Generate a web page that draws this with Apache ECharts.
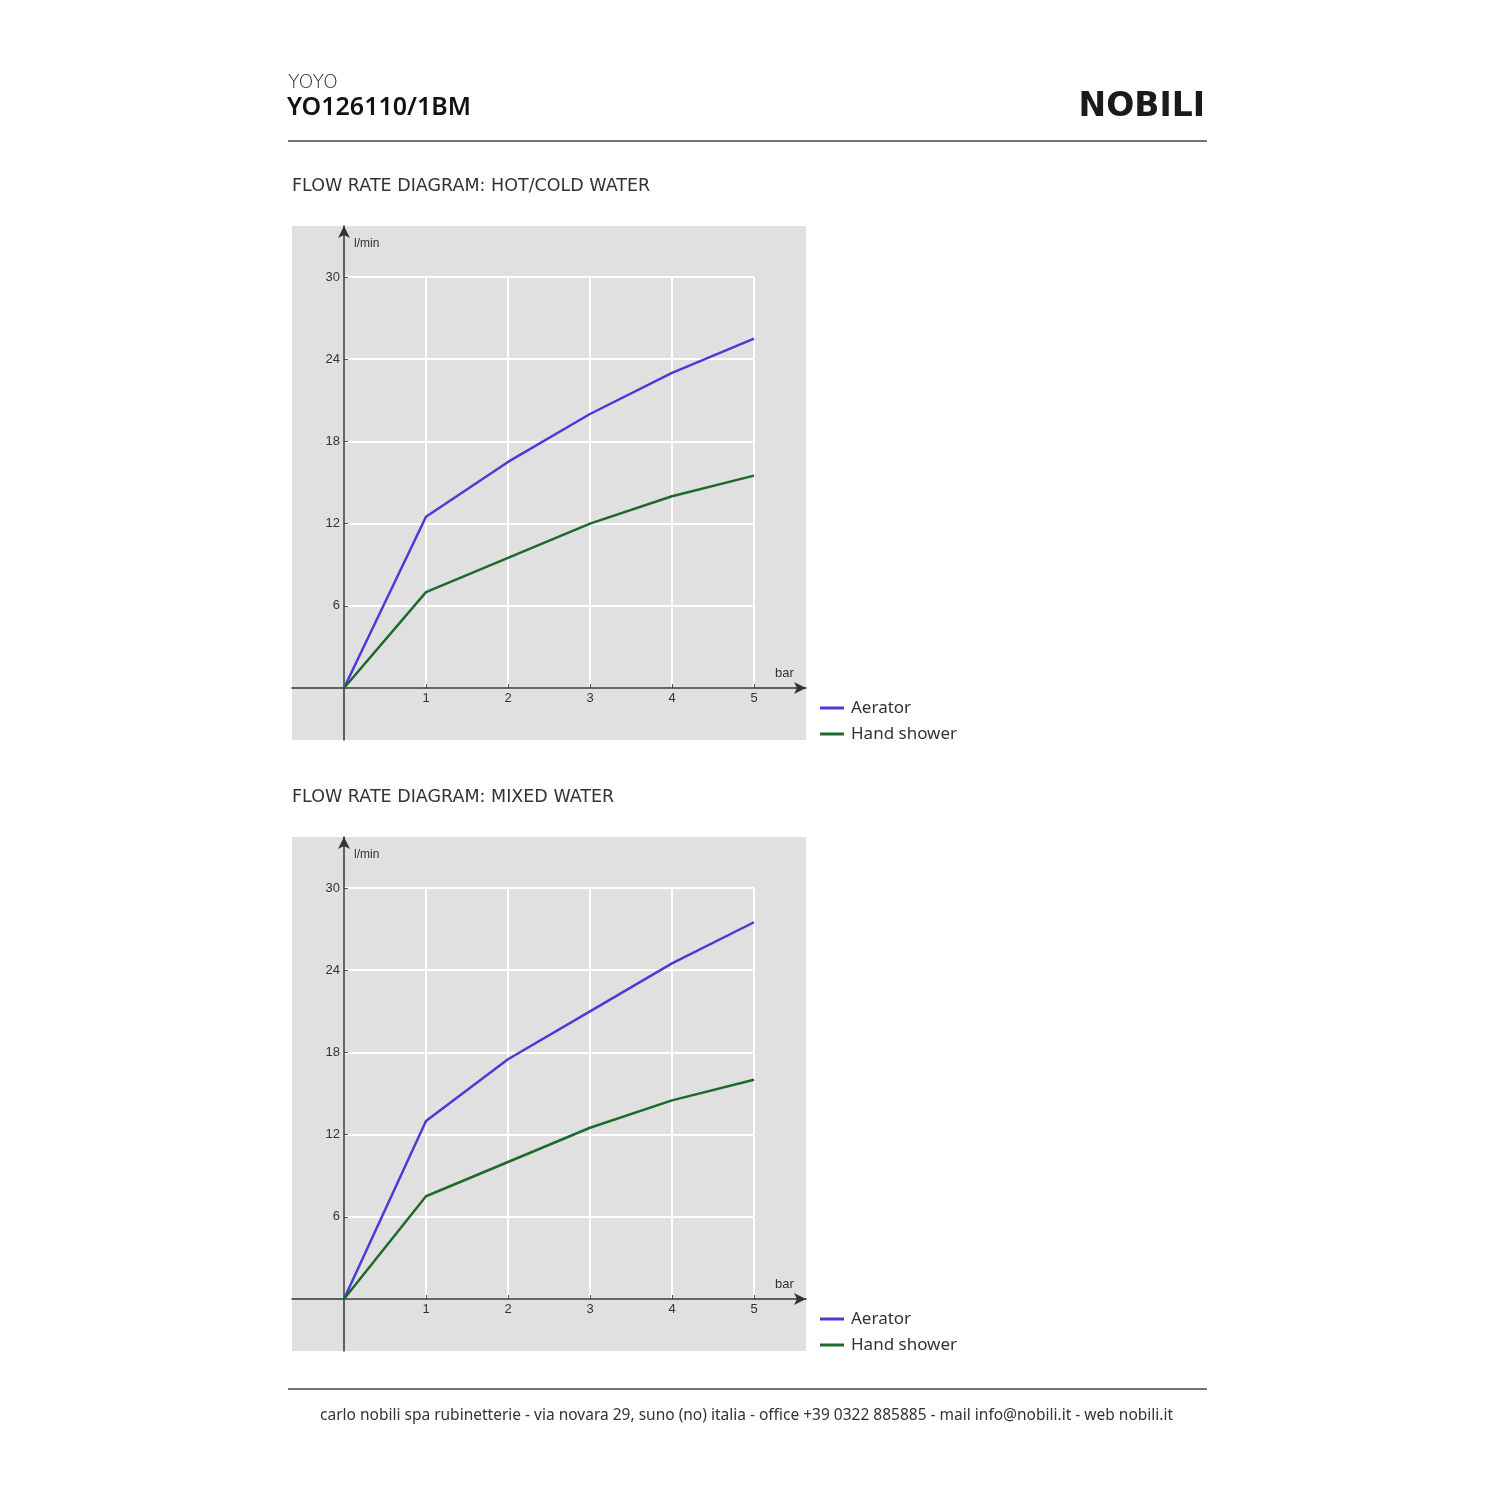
<!DOCTYPE html>
<html>
<head>
<meta charset="utf-8">
<script src="https://cdn.jsdelivr.net/npm/echarts@6/dist/echarts.min.js"></script>
<style>
  html, body { margin: 0; padding: 0; background: #fff; }
  #page { width: 1500px; height: 1500px; }
</style>
</head>
<body>
<div id="page"></div>
<script>
// pressure (bar) and flow rates (l/min)
var pressure = [0, 1, 2, 3, 4, 5];
var hotColdAerator = [0, 12.5, 16.5, 20, 23, 25.5];
var hotColdHandShower = [0, 7, 9.5, 12, 14, 15.5];
var mixedAerator = [0, 13, 17.5, 21, 24.5, 27.5];
var mixedHandShower = [0, 7.5, 10, 12.5, 14.5, 16];
var flowTicks = [0, 6, 12, 18, 24, 30];
var seriesNames = ['Aerator', 'Hand shower'];
var seriesColors = ['#4a3bd6', '#1d6b2a'];

var pageFont = 'Noto Sans';
var wideFont = 'DejaVu Sans';
var chartFont = 'Liberation Sans';

var chart = echarts.init(document.getElementById('page'));

// panel = grey box, plot = area between 0..5 bar and 0..30 l/min
var panelLeft = 292, panelSize = 514;
var plotLeft = 344, plotWidth = 410, plotHeight = 411, plotOffsetTop = 51;

var xMax = pressure[pressure.length - 1];
var yMax = flowTicks[flowTicks.length - 1];
var yStep = flowTicks[1] - flowTicks[0];

var grids = [], xAxes = [], yAxes = [], series = [], legends = [];

function pairs(xs, ys) {
    return xs.map(function (x, i) { return [x, ys[i]]; });
}

function addDiagram(panelTop, aerator, handShower) {
    var plotTop = panelTop + plotOffsetTop;
    var outer = grids.length, inner = grids.length + 1;

    // outer grid: grey panel carrying the arrowed axes
    grids.push({
        left: panelLeft, top: panelTop, width: panelSize, height: panelSize,
        show: true, backgroundColor: '#e0e0e0', borderWidth: 0
    });
    // inner grid: white grid lines and tick labels
    grids.push({
        left: plotLeft, top: plotTop, width: plotWidth, height: plotHeight
    });

    var unitX = plotWidth / xMax, unitY = plotHeight / yMax;
    xAxes.push({
        gridIndex: outer, type: 'value', z: 5,
        min: -(plotLeft - panelLeft) / unitX,
        max: xMax + (panelLeft + panelSize - plotLeft - plotWidth) / unitX,
        axisLine: {
            onZero: true, symbol: ['none', 'arrow'], symbolSize: [9, 12],
            lineStyle: { color: '#333', width: 1.5 }
        },
        axisTick: { show: false }, axisLabel: { show: false }, splitLine: { show: false },
        name: 'bar', nameLocation: 'end', nameGap: -31,
        nameTextStyle: { fontFamily: chartFont, fontSize: 13, color: '#333', verticalAlign: 'bottom', padding: [0, 0, 8, 0] }
    });
    yAxes.push({
        gridIndex: outer, type: 'value', z: 5,
        min: -(panelTop + panelSize - plotTop - plotHeight) / unitY,
        max: yMax + (plotTop - panelTop) / unitY,
        axisLine: {
            onZero: true, symbol: ['none', 'arrow'], symbolSize: [9, 12],
            lineStyle: { color: '#333', width: 1.5 }
        },
        axisTick: { show: false }, axisLabel: { show: false }, splitLine: { show: false },
        name: 'l/min', nameLocation: 'end', nameGap: -24,
        nameTextStyle: { fontFamily: chartFont, fontSize: 12, color: '#333', align: 'left', padding: [0, 0, 0, 10] }
    });

    xAxes.push({
        gridIndex: inner, type: 'value', min: 0, max: xMax, interval: 1,
        axisLine: { show: false },
        axisTick: { show: true, inside: true, length: 4, lineStyle: { color: '#555' } },
        axisLabel: { showMinLabel: false, margin: 4, fontFamily: chartFont, fontSize: 13, color: '#333' },
        splitLine: { show: true, lineStyle: { color: '#ffffff', width: 2 } }
    });
    yAxes.push({
        gridIndex: inner, type: 'value', min: 0, max: yMax, interval: yStep,
        axisLine: { show: false },
        axisTick: { show: true, inside: true, length: 4, lineStyle: { color: '#555' } },
        axisLabel: { showMinLabel: false, margin: 4, fontFamily: chartFont, fontSize: 13, color: '#333' },
        splitLine: { show: true, lineStyle: { color: '#ffffff', width: 2 } }
    });

    [aerator, handShower].forEach(function (values, k) {
        series.push({
            name: seriesNames[k], type: 'line',
            xAxisIndex: inner, yAxisIndex: inner,
            data: pairs(pressure, values),
            symbol: 'none', z: 6,
            lineStyle: { color: seriesColors[k], width: 2.5 },
            itemStyle: { color: seriesColors[k] }
        });
    });

    legends.push({
        data: seriesNames, orient: 'vertical', padding: 0,
        left: 820, top: panelTop + panelSize - 41,
        icon: 'rect', itemWidth: 24, itemHeight: 3, itemGap: 8,
        selectedMode: false,
        textStyle: { fontFamily: pageFont, fontSize: 17, color: '#333', lineHeight: 18, padding: [0, 0, 0, 2] }
    });
}

addDiagram(226, hotColdAerator, hotColdHandShower);
addDiagram(837, mixedAerator, mixedHandShower);

var option = {
    backgroundColor: '#ffffff',
    animation: false,
    title: [
        { text: 'YOYO', left: 288, top: 74, padding: 0, textStyle: { fontFamily: wideFont, fontSize: 19, fontWeight: 200, color: '#222' } },
        { text: 'YO126110/1BM', left: 287, top: 95, padding: 0, textStyle: { fontFamily: pageFont, fontSize: 25, fontWeight: 600, color: '#111' } },
        { text: 'NOBILI', right: 295, top: 91, padding: 0, textStyle: { fontFamily: wideFont, fontSize: 33, fontWeight: 'bold', color: '#1a1a1a' } },
        { text: 'FLOW RATE DIAGRAM: HOT/COLD WATER', left: 292, top: 177, padding: 0, textStyle: { fontFamily: wideFont, fontSize: 17.5, fontWeight: 'normal', color: '#333' } },
        { text: 'FLOW RATE DIAGRAM: MIXED WATER', left: 292, top: 788, padding: 0, textStyle: { fontFamily: wideFont, fontSize: 17.5, fontWeight: 'normal', color: '#333' } },
        { text: 'carlo nobili spa rubinetterie - via novara 29, suno (no) italia - office +39 0322 885885 - mail info@nobili.it - web nobili.it',
          left: 320, top: 1408, padding: 0, textStyle: { fontFamily: pageFont, fontSize: 15.5, fontWeight: 'normal', color: '#333' } }
    ],
    graphic: [
        { type: 'line', shape: { x1: 288, y1: 141, x2: 1207, y2: 141 }, style: { stroke: '#444', lineWidth: 1.5 } },
        { type: 'line', shape: { x1: 288, y1: 1389, x2: 1207, y2: 1389 }, style: { stroke: '#444', lineWidth: 1.5 } }
    ],
    legend: legends,
    grid: grids,
    xAxis: xAxes,
    yAxis: yAxes,
    series: series
};
chart.setOption(option);
</script>
</body>
</html>
